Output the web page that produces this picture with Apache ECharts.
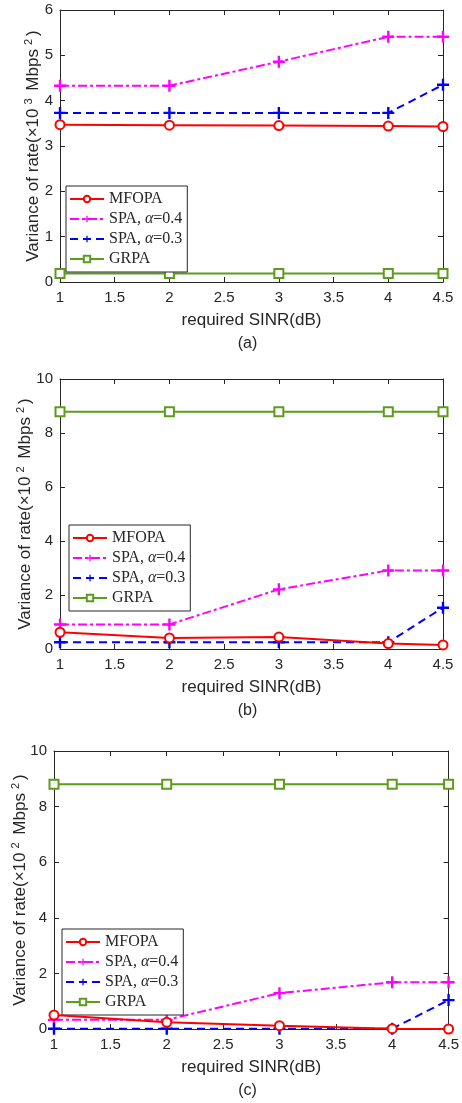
<!DOCTYPE html>
<html>
<head>
<meta charset="utf-8">
<script src="https://cdn.jsdelivr.net/npm/echarts@6/dist/echarts.min.js"></script>
<style>
  html, body { margin: 0; padding: 0; background: #fff; }
  #main { width: 462px; height: 1103px; }
</style>
</head>
<body>
<div id="main"></div>
<script>
// 横轴：required SINR(dB)
var sinr = [1, 2, 3, 4, 4.5];

// (a) ×10^3 Mbps^2
var aMFOPA = [3.47, 3.46, 3.45, 3.44, 3.43];
var aSPA4 = [4.33, 4.33, 4.86, 5.41, 5.41];
var aSPA3 = [3.73, 3.73, 3.73, 3.73, 4.35];
var aGRPA = [0.19, 0.19, 0.19, 0.19, 0.19];

// (b) ×10^2 Mbps^2
var bMFOPA = [0.62, 0.41, 0.44, 0.20, 0.15];
var bSPA4 = [0.91, 0.91, 2.21, 2.91, 2.91];
var bSPA3 = [0.25, 0.25, 0.25, 0.25, 1.53];
var bGRPA = [8.79, 8.79, 8.79, 8.79, 8.79];

// (c) ×10^2 Mbps^2
var cMFOPA = [0.50, 0.24, 0.12, 0.01, 0.00];
var cSPA4 = [0.33, 0.33, 1.29, 1.68, 1.68];
var cSPA3 = [0.01, 0.01, 0.01, 0.01, 1.04];
var cGRPA = [8.80, 8.80, 8.80, 8.80, 8.80];

var names = ['MFOPA', 'SPA,α=0.4', 'SPA,α=0.3', 'GRPA'];
var yMax = [6, 10, 10];
var yStep = [1, 2, 2];
var yPow = ['3', '2', '2'];
var captions = ['(a)', '(b)', '(c)'];

var myChart = echarts.init(document.getElementById('main'));

var txt = '#262626';
var plusPath = 'path://M4,0 H6 V4 H10 V6 H6 V10 H4 V6 H0 V4 H4 Z';

// 三个子图的位置
var grids = [
    { left: 60, right: 19, top: 10, height: 272 },
    { left: 60, right: 19, top: 379, height: 270 },
    { left: 54, right: 13, top: 751, height: 278 }
];
var legendPos = [
    { left: 66, top: 186 },
    { left: 69, top: 525 },
    { left: 62, top: 929 }
];
var yNameGap = [17, 25, 24];

function pairs(ys) {
    return sinr.map(function (x, i) { return [x, ys[i]]; });
}

var xAxes = [], yAxes = [], series = [], legends = [];
var allData = [
    [aMFOPA, aSPA4, aSPA3, aGRPA],
    [bMFOPA, bSPA4, bSPA3, bGRPA],
    [cMFOPA, cSPA4, cSPA3, cGRPA]
];

for (var g = 0; g < 3; g++) {
    var tickSet = { show: true, inside: true, length: 5, lineStyle: { color: txt } };
    var lineSet = { show: true, onZero: false, lineStyle: { color: txt, width: 1 } };
    xAxes.push({
        gridIndex: g, type: 'value', min: 1, max: 4.5, interval: 0.5,
        position: 'bottom',
        axisLine: lineSet, axisTick: tickSet, splitLine: { show: false },
        axisLabel: { color: txt, fontSize: 15, fontFamily: 'Liberation Sans', margin: 8 },
        name: 'required SINR(dB)', nameLocation: 'middle', nameGap: 30,
        nameTextStyle: { color: txt, fontSize: 17, fontFamily: 'Liberation Sans' }
    });
    xAxes.push({
        gridIndex: g, type: 'value', min: 1, max: 4.5, interval: 0.5,
        position: 'top',
        axisLine: lineSet, axisTick: tickSet, splitLine: { show: false },
        axisLabel: { show: false }
    });
    yAxes.push({
        gridIndex: g, type: 'value', min: 0, max: yMax[g], interval: yStep[g],
        position: 'left',
        axisLine: lineSet, axisTick: tickSet, splitLine: { show: false },
        axisLabel: { color: txt, fontSize: 15, fontFamily: 'Liberation Sans', margin: 7 },
        name: 'Variance of rate(×10{sup|' + yPow[g] + '} Mbps{sup|2})',
        nameLocation: 'middle', nameGap: yNameGap[g], nameRotate: 90,
        nameMoveOverlap: false,
        nameTextStyle: {
            color: txt, fontSize: 17, fontFamily: 'Liberation Sans', lineHeight: 20,
            rich: { sup: { fontSize: 11, verticalAlign: 'top', lineHeight: 20, color: txt, fontFamily: 'Liberation Sans', padding: [0, 3, 8, 4] } }
        }
    });
    yAxes.push({
        gridIndex: g, type: 'value', min: 0, max: yMax[g], interval: yStep[g],
        position: 'right',
        axisLine: lineSet, axisTick: tickSet, splitLine: { show: false },
        axisLabel: { show: false }
    });

    var d = allData[g];
    series.push({
        name: names[0], type: 'line', xAxisIndex: 2 * g, yAxisIndex: 2 * g,
        data: pairs(d[0]), symbol: 'emptyCircle', symbolSize: 9, z: 5,
        lineStyle: { color: '#ff0000', width: 2 },
        itemStyle: { color: '#ff0000', borderColor: '#ff0000', borderWidth: 2 }
    });
    series.push({
        name: names[1], type: 'line', xAxisIndex: 2 * g, yAxisIndex: 2 * g,
        data: pairs(d[1]), symbol: plusPath, symbolSize: 12,
        lineStyle: { color: '#ff00ff', width: 2, type: [9, 3, 3, 3] },
        itemStyle: { color: '#ff00ff' }
    });
    series.push({
        name: names[2], type: 'line', xAxisIndex: 2 * g, yAxisIndex: 2 * g,
        data: pairs(d[2]), symbol: plusPath, symbolSize: 12,
        lineStyle: { color: '#0000ff', width: 2, type: [8, 5] },
        itemStyle: { color: '#0000ff' }
    });
    series.push({
        name: names[3], type: 'line', xAxisIndex: 2 * g, yAxisIndex: 2 * g,
        data: pairs(d[3]), symbol: 'emptyRect', symbolSize: 9,
        lineStyle: { color: '#5c9c1c', width: 2 },
        itemStyle: { color: '#5c9c1c', borderColor: '#5c9c1c', borderWidth: 2 }
    });

    legends.push({
        left: legendPos[g].left, top: legendPos[g].top,
        orient: 'vertical', data: names, selectedMode: false,
        backgroundColor: '#fff', borderColor: txt, borderWidth: 1,
        padding: [4, 5, 4, 3], itemGap: 2, itemWidth: 34, itemHeight: 8,
        formatter: function (n) {
            return n.replace(',α', ', {a|α}');
        },
        textStyle: {
            color: txt, fontSize: 16, fontFamily: 'Liberation Serif', lineHeight: 18,
            rich: { a: { fontStyle: 'italic', fontSize: 16, fontFamily: 'Liberation Serif', color: txt } }
        }
    });
}

var graphics = grids.map(function (gr, i) {
    var cx = gr.left + (462 - gr.left - gr.right) / 2 - 4;
    var cy = gr.top + gr.height + 62;
    return {
        type: 'text', x: cx, y: cy,
        style: { text: captions[i], fill: txt, font: '16px "Liberation Sans"', textAlign: 'center', textVerticalAlign: 'middle' }
    };
});

var option = {
    backgroundColor: '#fff',
    animation: false,
    grid: grids,
    xAxis: xAxes,
    yAxis: yAxes,
    legend: legends,
    graphic: graphics,
    series: series
};

myChart.setOption(option);
</script>
</body>
</html>
